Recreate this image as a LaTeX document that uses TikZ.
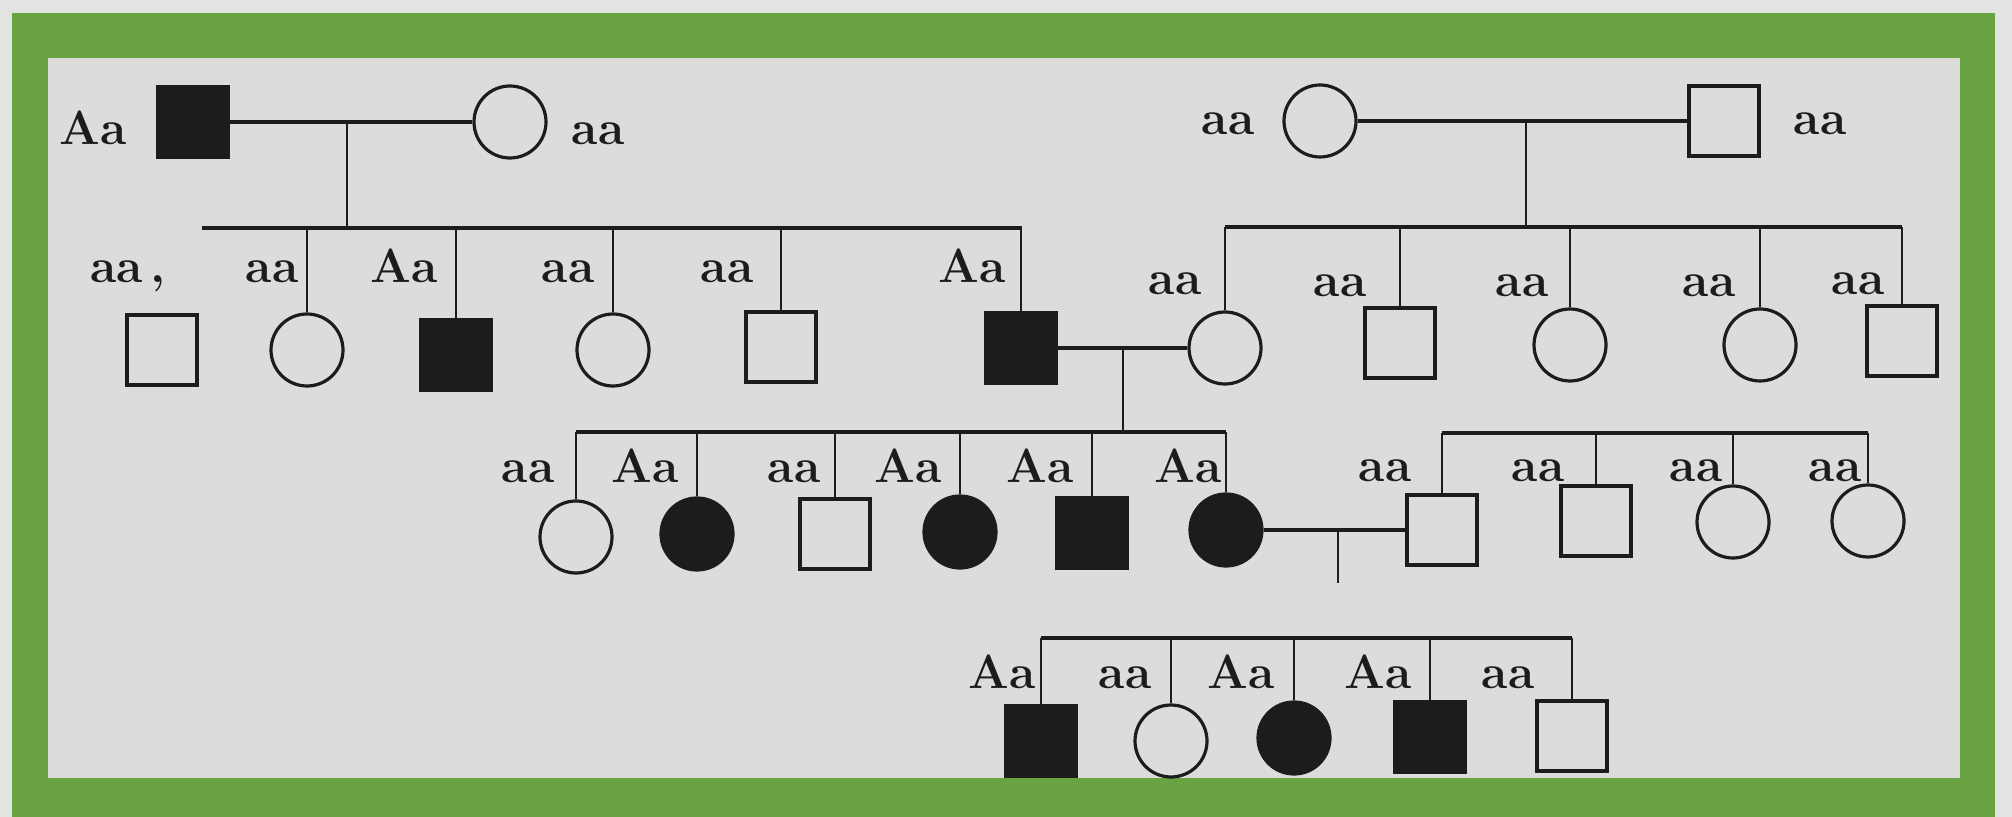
\documentclass[tikz,border=0pt]{standalone}
\definecolor{pagebg}{RGB}{226,228,226}
\definecolor{framegreen}{RGB}{106,164,66}
\definecolor{panelbg}{RGB}{220,221,219}
\definecolor{ink}{RGB}{28,28,28}
\begin{document}
\begin{tikzpicture}[x=0.5pt,y=-0.5pt,
  pmale/.style={rectangle,draw=ink,line width=1.6pt,minimum size=35pt,inner sep=0pt},
  pfemale/.style={circle,draw=ink,line width=1.6pt,minimum size=36pt,inner sep=0pt},
  aff/.style={fill=ink},
  lbl/.style={font=\fontsize{24}{28}\selectfont\bfseries,text=ink,inner sep=0pt,anchor=base},
  mline/.style={draw=ink,line width=2pt},
  dline/.style={draw=ink,line width=1.2pt}]
\useasboundingbox (0,0) rectangle (2012,817);
\fill[pagebg] (0,0) rectangle (2012,817);
\fill[framegreen] (12,13) rectangle (1995,817);
\fill[panelbg] (48,58) rectangle (1960,778);

% Generation I
\node[pmale,aff] (I1) at (193,122) {};
\node[pfemale] (I2) at (510,122) {};
\node[pfemale] (I3) at (1320,121) {};
\node[pmale] (I4) at (1724,121) {};
\node[lbl] (lI1) at (93,145) {Aa};
\node[lbl] (lI2) at (598,145) {aa};
\node[lbl] (lI3) at (1228,135) {aa};
\node[lbl] (lI4) at (1820,135) {aa};
\coordinate (m1) at (347,122);
\coordinate (m2) at (1526,121);
\draw[mline] (I1.east) -- (I2.west);
\draw[mline] (I3.east) -- (I4.west);

% sibship A
\coordinate (sA) at (347,228);
\coordinate (sAl) at (202,228);
\coordinate (sAr) at (1022,228);
\draw[dline] (m1) -- (sA);
\draw[mline] (sAl) -- (sAr);
\node[pmale] (A1) at (162,350) {};
\node[pfemale] (A2) at (307,350) {};
\node[pmale,aff] (A3) at (456,355) {};
\node[pfemale] (A4) at (613,350) {};
\node[pmale] (A5) at (781,347) {};
\node[pmale,aff] (A6) at (1021,348) {};
\node[lbl,anchor=base west] (lA1) at (90,283) {aa\,,};
\node[lbl] (lA2) at (272,283) {aa};
\node[lbl] (lA3) at (404,283) {Aa};
\node[lbl] (lA4) at (568,283) {aa};
\node[lbl] (lA5) at (727,283) {aa};
\node[lbl] (lA6) at (972,283) {Aa};
\foreach \c in {A2,A3,A4,A5,A6} \draw[dline] (\c.north) -- (\c.north |- sA);

% sibship B
\coordinate (sB) at (1526,227);
\draw[dline] (m2) -- (sB);
\node[pfemale] (B1) at (1225,348) {};
\node[pmale] (B2) at (1400,343) {};
\node[pfemale] (B3) at (1570,345) {};
\node[pfemale] (B4) at (1760,345) {};
\node[pmale] (B5) at (1902,341) {};
\draw[mline] (B1.north |- sB) -- (B5.north |- sB);
\foreach \c in {B1,B2,B3,B4,B5} \draw[dline] (\c.north) -- (\c.north |- sB);
\node[lbl] (lB1) at (1175,295) {aa};
\node[lbl] (lB2) at (1340,297) {aa};
\node[lbl] (lB3) at (1522,297) {aa};
\node[lbl] (lB4) at (1709,297) {aa};
\node[lbl] (lB5) at (1858,295) {aa};

% marriage A6 - B1
\draw[mline] (A6.east) -- (B1.west);
\coordinate (m3) at (1123,348);
\coordinate (m3b) at (1123,432);
\draw[dline] (m3) -- (m3b);

% sibship C
\node[pfemale] (C1) at (576,537) {};
\node[pfemale,aff] (C2) at (697,534) {};
\node[pmale] (C3) at (835,534) {};
\node[pfemale,aff] (C4) at (960,532) {};
\node[pmale,aff] (C5) at (1092,533) {};
\node[pfemale,aff] (C6) at (1226,530) {};
\draw[mline] (C1.north |- m3b) -- (C6.north |- m3b);
\foreach \c in {C1,C2,C3,C4,C5,C6} \draw[dline] (\c.north) -- (\c.north |- m3b);
\node[lbl] (lC1) at (528,483) {aa};
\node[lbl] (lC2) at (645,483) {Aa};
\node[lbl] (lC3) at (794,483) {aa};
\node[lbl] (lC4) at (908,483) {Aa};
\node[lbl] (lC5) at (1040,483) {Aa};
\node[lbl] (lC6) at (1188,483) {Aa};

% sibship D
\coordinate (sD) at (1650,433);
\node[pmale] (D1) at (1442,530) {};
\node[pmale] (D2) at (1596,521) {};
\node[pfemale] (D3) at (1733,522) {};
\node[pfemale] (D4) at (1868,521) {};
\draw[mline] (D1.north |- sD) -- (D4.north |- sD);
\foreach \c in {D1,D2,D3,D4} \draw[dline] (\c.north) -- (\c.north |- sD);
\node[lbl] (lD1) at (1385,482) {aa};
\node[lbl] (lD2) at (1538,482) {aa};
\node[lbl] (lD3) at (1696,482) {aa};
\node[lbl] (lD4) at (1835,482) {aa};

% marriage C6 - D1
\draw[mline] (C6.east) -- (D1.west);
\coordinate (m4) at (1338,530);
\coordinate (m4b) at (1338,583);
\draw[dline] (m4) -- (m4b);

% sibship E
\coordinate (sE) at (1300,638);
\node[pmale,aff] (E1) at (1041,741) {};
\node[pfemale] (E2) at (1171,741) {};
\node[pfemale,aff] (E3) at (1294,738) {};
\node[pmale,aff] (E4) at (1430,737) {};
\node[pmale] (E5) at (1572,736) {};
\draw[mline] (E1.north |- sE) -- (E5.north |- sE);
\foreach \c in {E1,E2,E3,E4,E5} \draw[dline] (\c.north) -- (\c.north |- sE);
\node[lbl] (lE1) at (1002,688) {Aa};
\node[lbl] (lE2) at (1125,688) {aa};
\node[lbl] (lE3) at (1241,688) {Aa};
\node[lbl] (lE4) at (1378,688) {Aa};
\node[lbl] (lE5) at (1508,688) {aa};
\end{tikzpicture}
\end{document}
